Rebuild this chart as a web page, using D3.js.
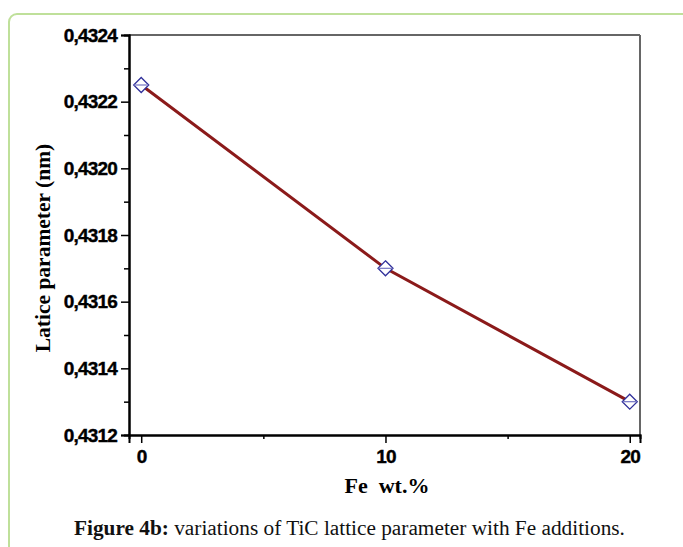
<!DOCTYPE html>
<html>
<head>
<meta charset="utf-8">
<script src="https://cdn.jsdelivr.net/npm/d3@7"></script>
<style>
  body { margin: 0; background: #fff; }
  svg { display: block; }
</style>
</head>
<body>
<script>
// valores
var feContent = [0, 10, 20];
var latticeParam = [0.43225, 0.4317, 0.4313];
var yTicks = [0.4312, 0.4314, 0.4316, 0.4318, 0.4320, 0.4322, 0.4324];
var xTicks = [0, 10, 20];

var W = 683, H = 547;
var margin = {top: 35, right: 43, bottom: 112, left: 129},
	width = W - margin.left - margin.right,
	height = H - margin.top - margin.bottom;

var svg = d3.select("body").append("svg")
	.attr("width", W)
	.attr("height", H);

// moldura verde
svg.append("rect")
	.attr("x", 9).attr("y", 14)
	.attr("width", 720).attr("height", 600)
	.attr("rx", 8)
	.attr("fill", "none")
	.attr("stroke", "#bfe09a")
	.attr("stroke-width", 2);

var g = svg.append("g")
	.attr("transform", "translate(" + margin.left + "," + margin.top + ")");

var x = d3.scaleLinear().domain([-0.5, 20.42]).range([0, width]);
var y = d3.scaleLinear().domain([0.4312, 0.4324]).range([height, 0]);

// eixos superior e direito (cinza)
g.append("line").attr("x1", 0).attr("x2", width).attr("y1", 0).attr("y2", 0)
	.attr("stroke", "#666").attr("stroke-width", 2);
g.append("line").attr("x1", width).attr("x2", width).attr("y1", 0).attr("y2", height)
	.attr("stroke", "#666").attr("stroke-width", 2);

// ticks menores
var yAxisMinor = d3.axisLeft(y)
	.tickValues(d3.range(0, 6).map(function(i) { return 0.4313 + i * 0.0002; }))
	.tickSize(5).tickFormat("");
g.append("g").attr("class", "y minor").call(yAxisMinor);

var xAxisMinor = d3.axisBottom(x)
	.tickValues([5, 15]).tickSize(4).tickFormat("");
g.append("g").attr("class", "x minor")
	.attr("transform", "translate(0," + height + ")")
	.call(xAxisMinor);

var yAxis = d3.axisLeft(y)
	.tickValues(yTicks)
	.tickSize(8)
	.tickPadding(4)
	.tickFormat(function(d) { return d3.format(".4f")(d).replace(".", ","); });

var xAxis = d3.axisBottom(x)
	.tickValues(xTicks)
	.tickSize(8)
	.tickPadding(6)
	.tickFormat(d3.format("d"));

g.append("g").attr("class", "y axis").call(yAxis);
g.append("g").attr("class", "x axis")
	.attr("transform", "translate(0," + height + ")")
	.call(xAxis);

g.selectAll(".axis path, .minor path").attr("stroke", "#000").attr("stroke-width", 2);
g.selectAll(".axis line, .minor line").attr("stroke", "#000").attr("stroke-width", 1.5);
g.selectAll(".axis text")
	.attr("font-family", "'Liberation Sans', Arial, sans-serif")
	.attr("font-weight", "bold")
	.attr("font-size", 19)
	.attr("letter-spacing", -0.8)
	.attr("stroke", "#000")
	.attr("stroke-width", 0.4)
	.attr("fill", "#000");
g.selectAll(".x.axis text").attr("dy", "0.75em");

// linha
var pts = feContent.map(function(d, i) { return {x: d, y: latticeParam[i]}; });

var line = d3.line()
	.x(function(d) { return x(d.x); })
	.y(function(d) { return y(d.y); });

g.append("path")
	.datum(pts)
	.attr("d", line)
	.attr("fill", "none")
	.attr("stroke", "#8b1a1a")
	.attr("stroke-width", 3);

// marcadores
var mk = g.selectAll(".marker")
	.data(pts).enter()
	.append("g")
	.attr("class", "marker")
	.attr("transform", function(d) { return "translate(" + x(d.x) + "," + y(d.y) + ")"; });

mk.append("path")
	.attr("d", "M0,-7.5L7.5,0L0,7.5L-7.5,0Z")
	.attr("fill", "#fff")
	.attr("stroke", "#30309a")
	.attr("stroke-width", 1.3);
mk.append("line")
	.attr("x1", -7).attr("x2", 7)
	.attr("stroke", "#8080c8")
	.attr("stroke-width", 1.3);

// rótulos dos eixos
svg.append("text")
	.attr("transform", "translate(50," + (margin.top + height / 2 + 13) + ") rotate(-90)")
	.attr("text-anchor", "middle")
	.attr("font-family", "'Liberation Serif', 'Times New Roman', serif")
	.attr("font-weight", "bold")
	.attr("font-size", 21.5)
	.text("Latice parameter (nm)");

svg.append("text")
	.attr("x", 387)
	.attr("y", 493)
	.attr("text-anchor", "middle")
	.attr("font-family", "'Liberation Serif', 'Times New Roman', serif")
	.attr("font-weight", "bold")
	.attr("font-size", 22)
	.attr("xml:space", "preserve")
	.text("Fe  wt.%");

// legenda da figura
var cap = svg.append("text")
	.attr("x", 74)
	.attr("y", 535)
	.attr("font-family", "'Liberation Serif', 'Times New Roman', serif")
	.attr("font-size", 21.3)
	.attr("fill", "#111");
cap.append("tspan").attr("font-weight", "bold").text("Figure 4b:");
cap.append("tspan").text(" variations of TiC lattice parameter with Fe additions.");
</script>
</body>
</html>
